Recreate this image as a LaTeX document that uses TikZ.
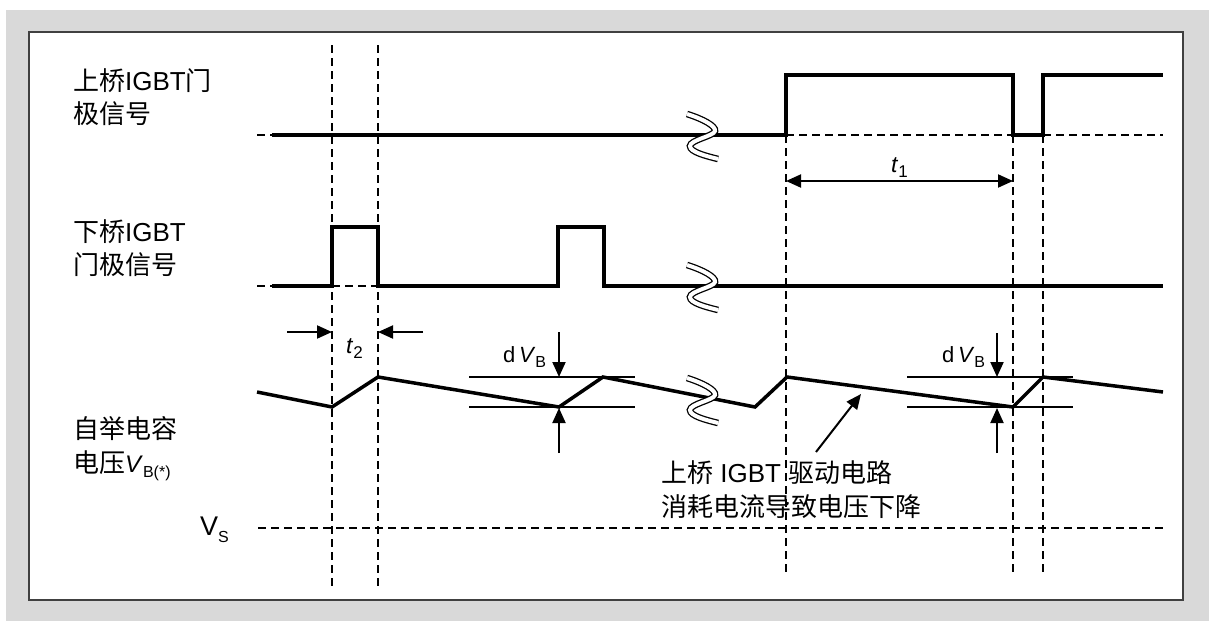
\documentclass[tikz,border=0pt]{standalone}
\usepackage{fontspec}
\setmainfont{Liberation Sans}
\newfontfamily\cjk{Noto Sans CJK SC}
\usetikzlibrary{arrows.meta}
\definecolor{bggray}{HTML}{D9D9D9}
\definecolor{framecol}{HTML}{404040}
\newcommand\subtx[2]{\raisebox{-#1pt}{\fontsize{16}{16}\selectfont #2}}
\begin{document}
\begin{tikzpicture}[x=1pt,y=-1pt,
  sig/.style={line width=3.5pt},
  thinln/.style={line width=1.5pt},
  dsh/.style={line width=1.5pt,dash pattern=on 8pt off 5pt},
  arr/.style={line width=2pt,-{Triangle[length=15pt,width=13pt]}},
  lbl/.style={anchor=base west,inner sep=0pt,font=\fontsize{26}{26}\selectfont},
  sml/.style={anchor=base west,inner sep=0pt,font=\fontsize{23}{23}\selectfont},
  brkmark/.pic={\draw[black,line width=1.3pt,double=white,double distance=4pt]
     (-14,-21) .. controls (2,-16) and (15,-9) .. (14,-4)
     .. controls (13,1) and (-11,5) .. (-11,11)
     .. controls (-11,17) and (5,21) .. (17,24);}
]
\useasboundingbox (0,0) rectangle (1209,621);
\fill[bggray] (6,10) rectangle (1209,621);
\draw[fill=white,draw=framecol,line width=2pt] (29,32) rectangle (1183,600);

% coordinates
\coordinate (v1) at (332,45);  \coordinate (v1b) at (332,588);
\coordinate (v2) at (378,45);  \coordinate (v2b) at (378,588);
\coordinate (v3) at (786,135); \coordinate (v3b) at (786,575);
\coordinate (v4) at (1013,135);\coordinate (v4b) at (1013,575);
\coordinate (v5) at (1043,135);\coordinate (v5b) at (1043,575);

% vertical dashed guides
\draw[dsh] (v1) -- (v1b);
\draw[dsh] (v2) -- (v2b);
\draw[dsh] (v3) -- (v3b);
\draw[dsh] (v4) -- (v4b);
\draw[dsh] (v5) -- (v5b);

% horizontal dashed references
\draw[dsh] (257,135) -- (272,135);
\draw[dsh] (786,135) -- (1013,135);
\draw[dsh] (1043,135) -- (1163,135);
\draw[dsh] (257,286) -- (272,286);
\draw[dsh] (332,286) -- (378,286);
\draw[dsh] (258,528) -- (1163,528);

% upper gate signal
\draw[sig] (272,135) -- (786,135) -- (786,75) -- (1013,75) -- (1013,135)
  -- (1043,135) -- (1043,75) -- (1163,75);
% lower gate signal
\draw[sig] (272,286) -- (332,286) -- (332,227) -- (378,227) -- (378,286)
  -- (558,286) -- (558,227) -- (604,227) -- (604,286) -- (1163,286);
% bootstrap voltage
\draw[sig] (257,392) -- (332,407) -- (378,377) -- (559,407) -- (603,377)
  -- (755,407) -- (787,377) -- (1013,407) -- (1043,377) -- (1163,392);

% breaks
\pic at (701,135) {brkmark};
\pic at (701,286) {brkmark};
\pic at (701,399) {brkmark};

% dV_B reference lines
\draw[thinln] (469,377) -- (635,377);
\draw[thinln] (469,407) -- (635,407);
\draw[thinln] (907,377) -- (1073,377);
\draw[thinln] (907,407) -- (1073,407);

% dV_B arrows
\coordinate (a1s) at (559,332); \coordinate (a1e) at (559,377);
\coordinate (a2s) at (559,453); \coordinate (a2e) at (559,408);
\coordinate (a3s) at (997,333); \coordinate (a3e) at (997,377);
\coordinate (a4s) at (997,453); \coordinate (a4e) at (997,408);
\draw[arr] (a1s) -- (a1e);
\draw[arr] (a2s) -- (a2e);
\draw[arr] (a3s) -- (a3e);
\draw[arr] (a4s) -- (a4e);

% t2 arrows
\coordinate (t2a) at (287,332); \coordinate (t2b) at (332,332);
\coordinate (t2c) at (423,332); \coordinate (t2d) at (378,332);
\draw[arr] (t2a) -- (t2b);
\draw[arr] (t2c) -- (t2d);

% t1 arrow
\coordinate (t1a) at (786,181); \coordinate (t1b) at (1013,181);
\draw[line width=2pt,{Triangle[length=15pt,width=13pt]}-{Triangle[length=15pt,width=13pt]}] (t1a) -- (t1b);

% annotation arrow
\coordinate (ann) at (816,452); \coordinate (annt) at (861,394);
\draw[arr] (ann) -- (annt);

% labels
\node[lbl] (up1) at (73,90) {{\cjk 上桥}IGBT{\cjk 门}};
\node[lbl] (up2) at (73,123) {\cjk 极信号};
\node[lbl] (lo1) at (73,241) {{\cjk 下桥}IGBT};
\node[lbl] (lo2) at (73,274) {\cjk 门极信号};
\node[lbl] (vb1) at (73,438) {\cjk 自举电容};
\node[lbl] (vb2) at (73,472) {{\cjk 电压}\fontsize{24}{24}\selectfont\textit{V}\subtx{5}{B(*)}};
\node[lbl,font=\fontsize{27}{27}\selectfont] (vs) at (200,535) {V\subtx{7}{S}};
\node[sml] (t2l) at (346,353) {\textit{t}\raisebox{-5pt}{\fontsize{17}{17}\selectfont 2}};
\node[sml] (t1l) at (891,172) {\textit{t}\raisebox{-5pt}{\fontsize{17}{17}\selectfont 1}};
\node[anchor=base west,inner sep=0pt,font=\fontsize{22}{22}\selectfont] (dv1) at (503,362) {d\,\textit{V}\subtx{5}{B}};
\node[anchor=base west,inner sep=0pt,font=\fontsize{22}{22}\selectfont] (dv2) at (942,362) {d\,\textit{V}\subtx{5}{B}};
\node[lbl] (an1) at (661,482) {{\cjk 上桥} IGBT {\cjk 驱动电路}};
\node[lbl] (an2) at (661,516) {\cjk 消耗电流导致电压下降};
\end{tikzpicture}
\end{document}
